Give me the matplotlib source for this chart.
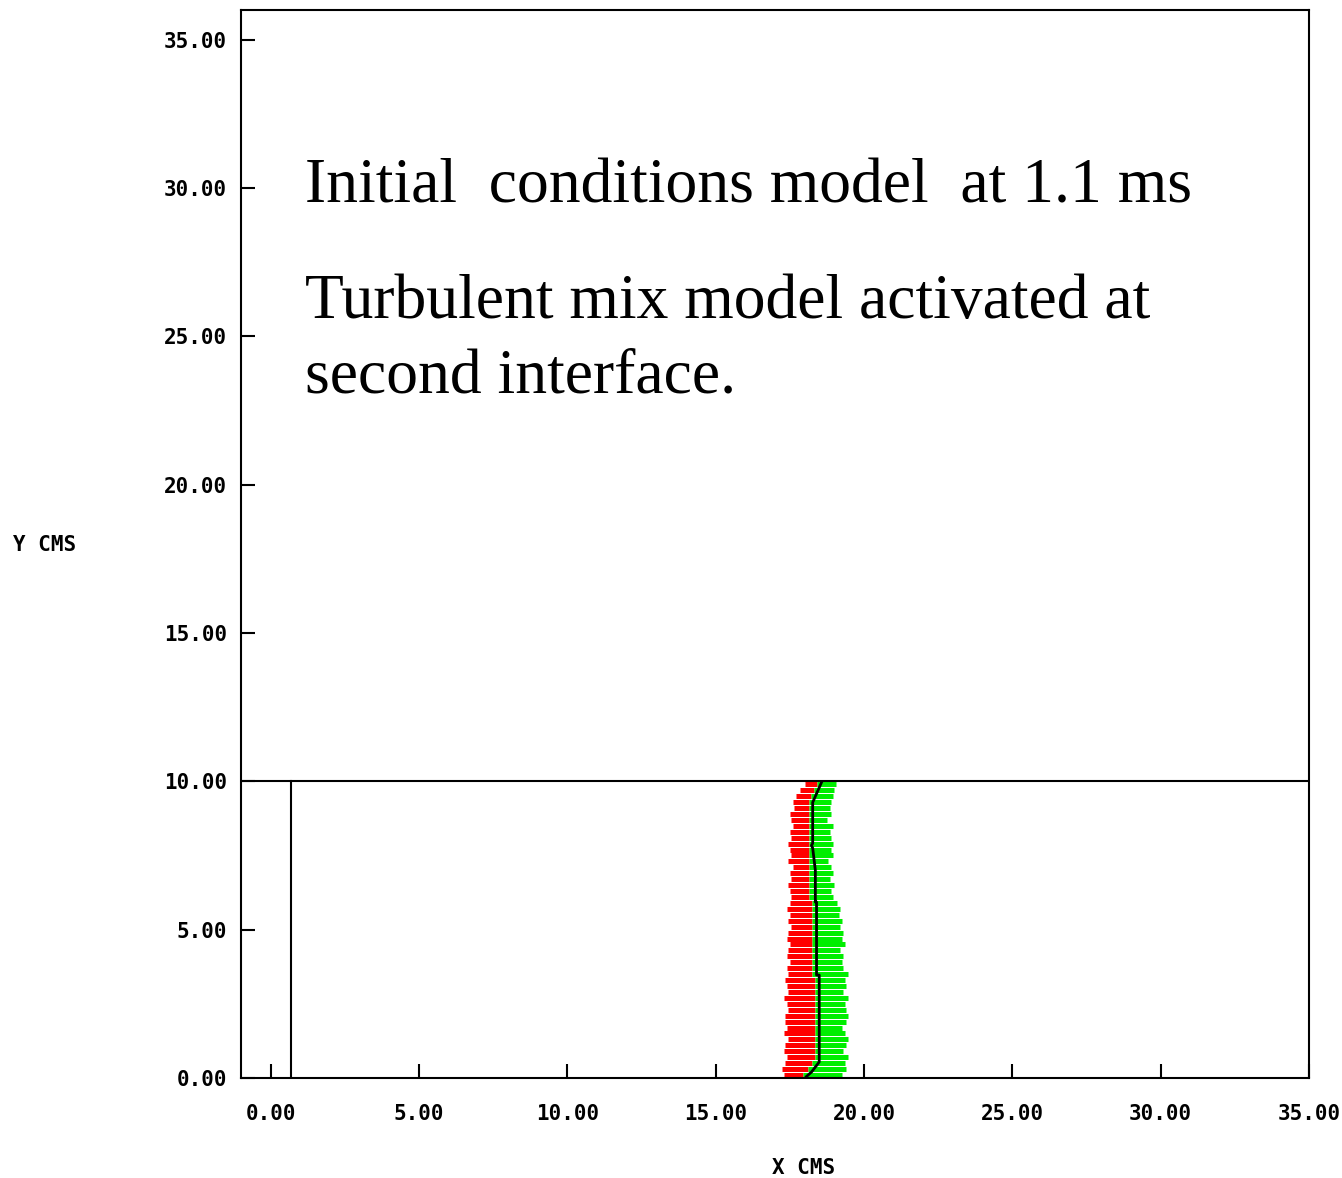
import numpy as np
import matplotlib
matplotlib.use('Agg')
import matplotlib.pyplot as plt

# rows of the mixing zone (y, cm)
row_y = [0.1, 0.3, 0.5, 0.7, 0.9, 1.1, 1.3, 1.5, 1.7, 1.9,
         2.1, 2.3, 2.5, 2.7, 2.9, 3.1, 3.3, 3.5, 3.7, 3.9,
         4.1, 4.3, 4.5, 4.7, 4.9, 5.1, 5.3, 5.5, 5.7, 5.9,
         6.1, 6.3, 6.5, 6.7, 6.9, 7.1, 7.3, 7.5, 7.7, 7.9,
         8.1, 8.3, 8.5, 8.7, 8.9, 9.1, 9.3, 9.5, 9.7, 9.9]
# red (heavy) edge, split, green (light) edge
red_left = [17.30, 17.25, 17.35, 17.40, 17.30, 17.35, 17.45, 17.30, 17.40, 17.35,
            17.35, 17.45, 17.40, 17.30, 17.45, 17.40, 17.35, 17.45, 17.40, 17.50,
            17.40, 17.45, 17.50, 17.40, 17.45, 17.55, 17.45, 17.50, 17.40, 17.50,
            17.55, 17.50, 17.45, 17.55, 17.50, 17.60, 17.45, 17.55, 17.50, 17.45,
            17.55, 17.50, 17.60, 17.55, 17.50, 17.65, 17.60, 17.70, 17.85, 18.00]
split = [17.95, 18.10, 18.25, 18.35, 18.35, 18.35, 18.35, 18.35, 18.35, 18.35,
         18.35, 18.35, 18.35, 18.35, 18.35, 18.35, 18.35, 18.25, 18.25, 18.25,
         18.25, 18.25, 18.25, 18.25, 18.25, 18.25, 18.25, 18.25, 18.25, 18.25,
         18.15, 18.15, 18.15, 18.15, 18.15, 18.15, 18.15, 18.15, 18.15, 18.15,
         18.15, 18.15, 18.15, 18.15, 18.15, 18.15, 18.15, 18.20, 18.30, 18.40]
green_right = [19.25, 19.40, 19.35, 19.45, 19.30, 19.40, 19.45, 19.35, 19.25, 19.40,
               19.45, 19.40, 19.35, 19.45, 19.30, 19.40, 19.35, 19.45, 19.30, 19.25,
               19.30, 19.20, 19.35, 19.25, 19.30, 19.20, 19.25, 19.15, 19.20, 19.10,
               18.95, 18.90, 19.00, 18.85, 18.95, 18.90, 18.80, 18.95, 18.90, 18.95,
               18.90, 18.85, 18.95, 18.75, 18.90, 18.85, 18.90, 18.95, 19.00, 19.05]

# interface line
iface_x = [18.57, 18.27, 18.27, 18.23, 18.27, 18.36, 18.36, 18.40, 18.40, 18.49, 18.49, 18.23, 18.06]
iface_y = [9.97, 9.29, 7.91, 7.84, 7.75, 7.0, 5.93, 5.93, 3.47, 3.47, 0.54, 0.2, 0.05]

# material boundaries
top_y = 10.0
wall_x = 0.7

ticks = [0, 5, 10, 15, 20, 25, 30, 35]

fig = plt.figure(figsize=(13.42, 11.78), dpi=100)
ax = fig.add_axes([0.1796, 0.0849, 0.7958, 0.9066])
ax.set_xlim(-1, 35)
ax.set_ylim(0, 36)

ax.hlines(row_y, red_left, split, colors='#ff0000', linewidth=3.6)
ax.hlines(row_y, split, green_right, colors='#00ee00', linewidth=3.6)
ax.plot(iface_x, iface_y, color='black', linewidth=2.0)

ax.axhline(top_y, color='black', linewidth=1.5)
ax.plot([wall_x, wall_x], [0, top_y], color='black', linewidth=1.5)

mono = dict(family='DejaVu Sans Mono', fontweight='bold', fontsize=15)
ax.set_xticks(ticks)
ax.set_yticks(ticks)
ax.set_xticklabels(['%.2f' % t for t in ticks], **mono)
ax.set_yticklabels(['%.2f' % t for t in ticks], **mono)
ax.tick_params(direction='in', length=10, width=1.5)
ax.tick_params(axis='y', pad=10)
ax.tick_params(axis='x', pad=19)
for s in ax.spines.values():
    s.set_linewidth(1.5)

fig.text(45 / 1342, 1 - 545 / 1178, 'Y CMS', ha='center', va='center', **mono)
fig.text(804 / 1342, 1 - 1168 / 1178, 'X CMS', ha='center', va='center', **mono)

serif = dict(family='Liberation Serif', fontsize=45.8, va='baseline', ha='left')
ax.text(1.16, 29.5, 'Initial  conditions model  at 1.1 ms', **serif)
ax.text(1.16, 25.62, 'Turbulent mix model activated at', **serif)
ax.text(1.16, 23.1, 'second interface.', **serif)

fig.savefig('out.png', dpi=100)
